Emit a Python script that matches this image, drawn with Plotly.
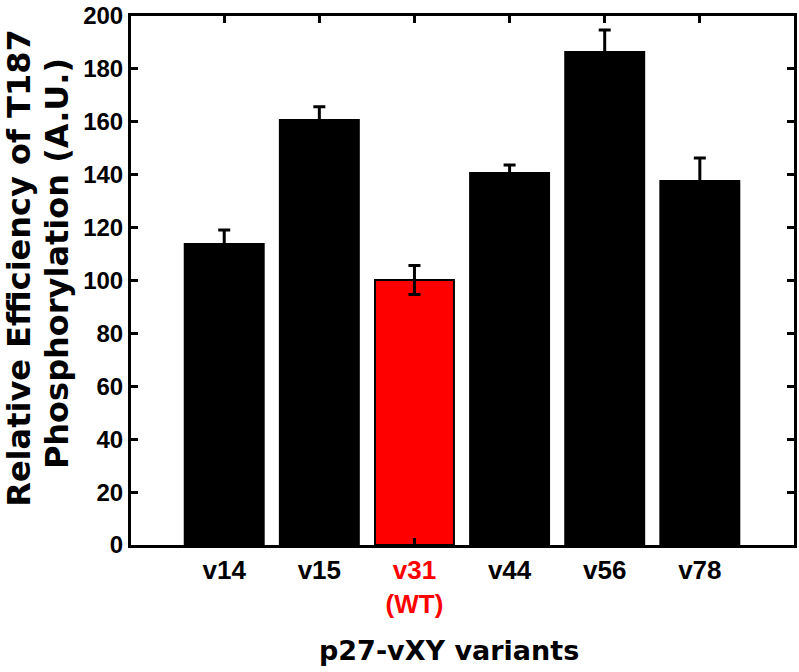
import plotly.graph_objects as go

categories = ["v14", "v15", "v31", "v44", "v56", "v78"]
tick_labels = ["v14", "v15",
               "<span style='color:#ff0000'>v31</span><br><span style='color:#ff0000'>(WT)</span>",
               "v44", "v56", "v78"]
values = [113.8, 160.7, 100.2, 140.6, 186.4, 137.6]
errors = [5.3, 5.0, 5.5, 3.1, 8.3, 8.7]
bar_colors = ["#000000", "#000000", "#ff0000", "#000000", "#000000", "#000000"]
y_title_lines = ["Relative Efficiency of T187", "Phosphorylation (A.U.)"]
x_title = "p27-vXY variants"

fig = go.Figure()
fig.add_trace(go.Bar(
    x=categories, y=values,
    width=0.83,
    marker=dict(color=bar_colors, line=dict(color="#000000", width=2)),
    error_y=dict(type="data", array=errors, visible=True, color="#000000",
                 thickness=3, width=6),
))

axis_font = "Liberation Sans, Arial, sans-serif"
title_font = dict(family="DejaVu Sans", size=32, color="#000000", weight="bold")
fig.update_layout(
    width=799, height=672,
    margin=dict(l=131, r=5, t=16, b=127),
    plot_bgcolor="white", paper_bgcolor="white",
    showlegend=False,
    xaxis=dict(
        type="category", range=[-0.98, 5.99],
        tickmode="array", tickvals=categories, ticktext=tick_labels,
        showline=True, linecolor="#000000", linewidth=3, mirror="ticks",
        ticks="inside", ticklen=7, tickwidth=3, tickcolor="#000000",
        tickfont=dict(family=axis_font, size=26, color="#000000", weight="bold"),
        showgrid=False, zeroline=False, automargin=False,
    ),
    yaxis=dict(
        range=[0, 200], tickmode="linear", tick0=0, dtick=20,
        showline=True, linecolor="#000000", linewidth=3, mirror="ticks",
        ticks="inside", ticklen=7, tickwidth=3, tickcolor="#000000",
        tickfont=dict(family=axis_font, size=24, color="#000000", weight="bold"),
        showgrid=False, zeroline=False, automargin=False,
    ),
    annotations=[
        dict(text=x_title, xref="paper", yref="paper",
             x=0.48, y=-0.199, xanchor="center", yanchor="middle", showarrow=False,
             font=dict(family="DejaVu Sans", size=27, color="#000000", weight="bold")),
        dict(text=y_title_lines[0], xref="paper", yref="paper", textangle=-90,
             x=-0.169, y=0.524, xanchor="center", yanchor="middle", showarrow=False,
             font=title_font),
        dict(text=y_title_lines[1], xref="paper", yref="paper", textangle=-90,
             x=-0.1116, y=0.531, xanchor="center", yanchor="middle", showarrow=False,
             font=title_font),
    ],
)

fig.write_html(
    "out.html",
    config={"displayModeBar": False},
    post_script="document.body.style.margin='0';document.body.style.overflow='hidden';",
)
